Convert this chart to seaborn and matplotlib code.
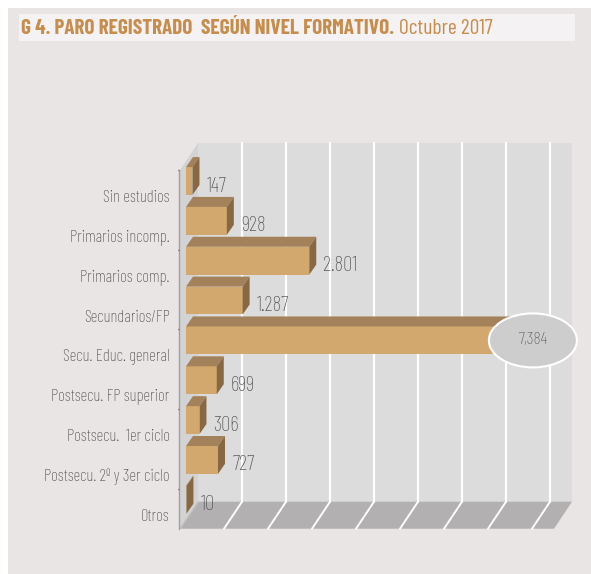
import numpy as np
import pandas as pd
import matplotlib
matplotlib.use("Agg")
import matplotlib.pyplot as plt
import matplotlib.patches as mpatches
import matplotlib.transforms as mtransforms
import seaborn as sns

categories = ["Sin estudios", "Primarios incomp.", "Primarios comp.", "Secundarios/FP",
              "Secu. Educ. general", "Postsecu. FP superior", "Postsecu.  1er ciclo",
              "Postsecu. 2º y 3er ciclo", "Otros"]
values = [147, 928, 2801, 1287, 7384, 699, 306, 727, 10]
value_labels = ["147", "928", "2.801", "1.287", "7,384", "699", "306", "727", "10"]
x_max = 8500
grid_step = 1000

sns.set_theme(style="white")
NARROW = ["Barlow Condensed", "DejaVu Sans"]
plt.rcParams["font.family"] = NARROW

DPI = 100
W, H = 591, 574
fig = plt.figure(figsize=(W / DPI, H / DPI), dpi=DPI)
fig.patch.set_facecolor("white")

# panel backgrounds
fig.patches.append(mpatches.Rectangle((8 / W, 0), 1 - 8 / W, 1 - 8 / H, transform=fig.transFigure,
                                      facecolor="#EAE5E5", edgecolor="none", zorder=-5))
fig.patches.append(mpatches.Rectangle((19 / W, 1 - 41 / H), (575 - 19) / W, 27 / H,
                                      transform=fig.transFigure,
                                      facecolor="#F4F2F2", edgecolor="none", zorder=-4))
TITLE_C = "#C68D4C"
t1 = fig.text(21 / W, 1 - 28 / H, "G 4. PARO REGISTRADO  SEGÚN NIVEL FORMATIVO.",
              color=TITLE_C, fontsize=15.3, fontweight="bold", va="center", ha="left",
              family=NARROW)
fig.canvas.draw()
bb = t1.get_window_extent()
fig.text(bb.x1 / W + 5 / W, 1 - 28 / H, "Octubre 2017", color=TITLE_C, fontsize=15.5,
         fontweight="normal", va="center", ha="left", family=NARROW)

# axes in pixel geometry
AX_L, AX_R, AX_T, AX_B = 178, 585, 130, 545
ax = fig.add_axes([AX_L / W, 1 - AX_B / H, (AX_R - AX_L) / W, (AX_B - AX_T) / H])
ax.set_facecolor("none")
PX_PER_UNIT_X = 0.044        # px per data unit
PX_PER_CAT = 39.85
ZERO_PX = 186
FIRST_PX = 181
xmin = (AX_L - ZERO_PX) / PX_PER_UNIT_X
xmax = (AX_R - ZERO_PX) / PX_PER_UNIT_X
ytop = (AX_T - FIRST_PX) / PX_PER_CAT
ybot = (AX_B - FIRST_PX) / PX_PER_CAT
ux = 1 / PX_PER_UNIT_X   # data units per pixel (x)
uy = 1 / PX_PER_CAT      # category units per pixel (y, downward)

n = len(categories)
y0, y1 = -0.5, n - 0.5

# front plane offset (-6, +9 down), back wall offset (+12, -18 up)
fx, fy = -6, 9
bx, by = 12, -18

WALL = "#DCDCDC"
FLOOR = "#B2B0B0"
LEFTWALL = "#D3D3D3"

# back wall
ax.add_patch(mpatches.Rectangle((bx * ux, y0 + by * uy), x_max, n, facecolor=WALL,
                                edgecolor="none", zorder=1))
for gx in np.arange(grid_step, x_max, grid_step):
    ax.plot([gx + bx * ux, gx + bx * ux], [y0 + by * uy, y1 + by * uy], color="white",
            lw=1.6, zorder=1.5)
# left wall
ax.add_patch(mpatches.Polygon([(fx * ux, y0 + fy * uy), (fx * ux, y1 + fy * uy),
                               (bx * ux, y1 + by * uy), (bx * ux, y0 + by * uy)],
                              closed=True, facecolor=LEFTWALL, edgecolor="none", zorder=1))
# floor
ax.add_patch(mpatches.Polygon([(fx * ux, y1 + fy * uy), (x_max + fx * ux, y1 + fy * uy),
                               (x_max + bx * ux, y1 + by * uy), (bx * ux, y1 + by * uy)],
                              closed=True, facecolor=FLOOR, edgecolor="none", zorder=1))
for gx in np.arange(grid_step, x_max, grid_step):
    ax.plot([gx + fx * ux, gx + bx * ux], [y1 + fy * uy, y1 + by * uy], color="white",
            lw=1.4, zorder=1.5)
ax.plot([fx * ux, bx * ux], [y1 + fy * uy, y1 + by * uy],
        color="#C4C4C4", lw=1.0, zorder=1.6)
# left axis line and tick marks (front plane)
ax.plot([fx * ux - 1 * ux] * 2, [y0 + fy * uy, y1 + fy * uy], color="#A0A0A0", lw=1.0, zorder=2)
for tb in np.arange(y0, y1, 2):
    ax.plot([fx * ux - 4 * ux, fx * ux - 1 * ux], [tb + fy * uy] * 2, color="#8A8A8A",
            lw=1.0, zorder=2)

# bars
FRONT = "#D3A86F"
TOP = "#A3815A"
SIDE = "#886843"
df = pd.DataFrame({"cat": categories, "val": values})
sns.barplot(data=df, x="val", y="cat", orient="h", width=0.7, color=FRONT, saturation=1,
            ax=ax, zorder=3, edgecolor="none")
dx_b, dy_b = 7, -10
hw = 0.35
for i, v in enumerate(values):
    ax.add_patch(mpatches.Polygon([(0, i - hw), (v, i - hw), (v + dx_b * ux, i - hw + dy_b * uy),
                                   (dx_b * ux, i - hw + dy_b * uy)], closed=True,
                                  facecolor=TOP, edgecolor="none", zorder=3))
    ax.add_patch(mpatches.Polygon([(v, i - hw), (v, i + hw), (v + dx_b * ux, i + hw + dy_b * uy),
                                   (v + dx_b * ux, i - hw + dy_b * uy)], closed=True,
                                  facecolor=SIDE, edgecolor="none", zorder=3))

# value labels
vmax_i = int(np.argmax(values))
for i, (v, lab) in enumerate(zip(values, value_labels)):
    if i == vmax_i:
        cx = v + 22 * ux
        ax.add_patch(mpatches.Ellipse((cx, i), 88 * ux, 54 * uy, facecolor="#CDCDCD",
                                      edgecolor="white", lw=1.5, zorder=5))
        ax.text(cx, i, lab, ha="center", va="center", fontsize=12.5, fontweight="light",
                color="#555555", zorder=6)
    else:
        ax.text(v + 14 * ux, i + 5 * uy, lab, ha="left", va="center", fontsize=15,
                fontweight="light", color="#4A4A4A", zorder=6)

ax.set_xlim(xmin, xmax)
ax.set_ylim(ybot, ytop)
ax.set_xticks([])
ax.set_yticks(range(n))
ax.set_yticklabels(categories, fontweight="light")
ax.tick_params(axis="y", length=0, pad=6, labelsize=12, labelcolor="#3F3F3F")
off = mtransforms.ScaledTranslation(0, -15 / DPI, fig.dpi_scale_trans)
for lab in ax.get_yticklabels():
    lab.set_transform(lab.get_transform() + off)
ax.set_xlabel("")
ax.set_ylabel("")
for s in ax.spines.values():
    s.set_visible(False)

fig.savefig("out.png", dpi=DPI)
